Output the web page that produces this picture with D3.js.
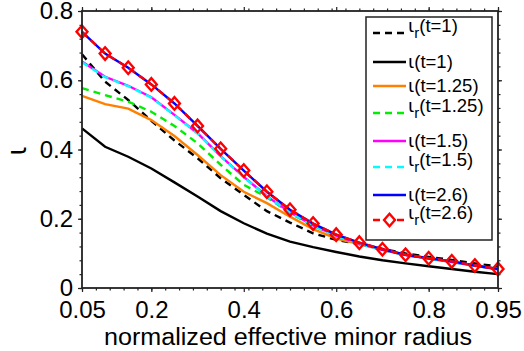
<!DOCTYPE html>
<html>
<head>
<meta charset="utf-8">
<script src="https://cdn.jsdelivr.net/npm/d3@7"></script>
<style>
  body { margin: 0; background: #fff; }
  svg { display: block; font-family: "Liberation Sans", Arial, Helvetica, sans-serif; }
  .iota { font-family: "DejaVu Sans", sans-serif; }
</style>
</head>
<body>
<svg id="chart"></svg>
<script>
const width = 524;
const height = 351;
const margin = { top: 11, right: 26, bottom: 63, left: 82 };

// radius grid
const rho = [0.05, 0.1, 0.15, 0.2, 0.25, 0.3, 0.35, 0.4, 0.45, 0.5, 0.55, 0.6, 0.65, 0.7, 0.75, 0.8, 0.85, 0.9, 0.95];

const iotaR_t1   = [0.675, 0.596, 0.543, 0.483, 0.426, 0.375, 0.317, 0.269, 0.222, 0.189, 0.158, 0.139, 0.127, 0.113, 0.100, 0.090, 0.081, 0.071, 0.062];
const iota_t1    = [0.461, 0.408, 0.379, 0.345, 0.305, 0.264, 0.222, 0.187, 0.157, 0.134, 0.118, 0.104, 0.091, 0.080, 0.071, 0.063, 0.055, 0.047, 0.040];
const iota_t125  = [0.555, 0.531, 0.518, 0.485, 0.439, 0.384, 0.326, 0.278, 0.245, 0.206, 0.170, 0.143, 0.127, 0.110, 0.096, 0.086, 0.076, 0.065, 0.055];
const iotaR_t125 = [0.577, 0.557, 0.538, 0.509, 0.468, 0.418, 0.356, 0.298, 0.262, 0.216, 0.180, 0.150, 0.128, 0.110, 0.095, 0.085, 0.076, 0.065, 0.055];
const iota_t15   = [0.654, 0.610, 0.584, 0.551, 0.500, 0.447, 0.381, 0.321, 0.265, 0.219, 0.181, 0.151, 0.128, 0.110, 0.095, 0.085, 0.075, 0.064, 0.054];
const iotaR_t15  = [0.652, 0.609, 0.583, 0.550, 0.499, 0.446, 0.380, 0.320, 0.264, 0.218, 0.180, 0.150, 0.128, 0.110, 0.095, 0.085, 0.075, 0.064, 0.054];
const iota_t26   = [0.740, 0.677, 0.636, 0.588, 0.533, 0.468, 0.402, 0.339, 0.278, 0.226, 0.186, 0.154, 0.131, 0.112, 0.096, 0.086, 0.077, 0.065, 0.055];
const iotaR_t26  = [0.740, 0.677, 0.636, 0.588, 0.533, 0.468, 0.402, 0.339, 0.278, 0.226, 0.186, 0.154, 0.131, 0.112, 0.096, 0.086, 0.077, 0.065, 0.055];

const xTicks = [0.05, 0.2, 0.4, 0.6, 0.8, 0.95];
const yTicks = [0, 0.2, 0.4, 0.6, 0.8];

const series = [
  { sub: true,  label: "(t=1)",    values: iotaR_t1,   color: "#000000", dash: true,  marker: false },
  { sub: false, label: "(t=1)",    values: iota_t1,    color: "#000000", dash: false, marker: false },
  { sub: false, label: "(t=1.25)", values: iota_t125,  color: "#ff8000", dash: false, marker: false },
  { sub: true,  label: "(t=1.25)", values: iotaR_t125, color: "#00ee00", dash: true,  marker: false },
  { sub: false, label: "(t=1.5)",  values: iota_t15,   color: "#ff00ff", dash: false, marker: false },
  { sub: true,  label: "(t=1.5)",  values: iotaR_t15,  color: "#00ffff", dash: true,  marker: false },
  { sub: false, label: "(t=2.6)",  values: iota_t26,   color: "#0000ff", dash: false, marker: false },
  { sub: true,  label: "(t=2.6)",  values: iotaR_t26,  color: "#ff0000", dash: true,  marker: true }
];
const legendY = [33, 62, 86, 113, 141, 167, 195, 220];

const svg = d3.select("#chart")
    .attr("width", width)
    .attr("height", height);

const xScale = d3.scaleLinear()
    .domain([0.05, 0.95])
    .range([margin.left, width - margin.right]);

const yScale = d3.scaleLinear()
    .domain([0, 0.8])
    .range([height - margin.bottom, margin.top]);

const axisColor = "#222";
const minorX = d3.range(0, 31).map(i => 0.05 + i * 0.03);
const minorY = d3.range(0, 21).map(i => i * 0.04);

function styleAxis(sel) {
    sel.select(".domain").remove();
    sel.selectAll("line").attr("stroke", axisColor).attr("stroke-width", 1.2);
    sel.selectAll("text").attr("fill", "#000").style("font-size", "24px");
}

// minor ticks
svg.append("g").attr("transform", `translate(0,${height - margin.bottom})`)
    .call(d3.axisBottom(xScale).tickValues(minorX).tickSize(2.5).tickFormat(""))
    .call(styleAxis);
svg.append("g").attr("transform", `translate(0,${margin.top})`)
    .call(d3.axisTop(xScale).tickValues(minorX).tickSize(2.5).tickFormat(""))
    .call(styleAxis);
svg.append("g").attr("transform", `translate(${margin.left},0)`)
    .call(d3.axisLeft(yScale).tickValues(minorY).tickSize(2.5).tickFormat(""))
    .call(styleAxis);
svg.append("g").attr("transform", `translate(${width - margin.right},0)`)
    .call(d3.axisRight(yScale).tickValues(minorY).tickSize(2.5).tickFormat(""))
    .call(styleAxis);

// major ticks
svg.append("g").attr("transform", `translate(0,${height - margin.bottom})`)
    .call(d3.axisBottom(xScale).tickValues(xTicks).tickSize(4).tickPadding(9).tickFormat(d => String(d)))
    .call(styleAxis);
svg.append("g").attr("transform", `translate(0,${margin.top})`)
    .call(d3.axisTop(xScale).tickValues(xTicks).tickSize(4).tickFormat(""))
    .call(styleAxis);
svg.append("g").attr("transform", `translate(${margin.left},0)`)
    .call(d3.axisLeft(yScale).tickValues(yTicks).tickSize(4).tickPadding(5).tickFormat(d => String(d)))
    .call(styleAxis);
svg.append("g").attr("transform", `translate(${width - margin.right},0)`)
    .call(d3.axisRight(yScale).tickValues(yTicks).tickSize(4).tickFormat(""))
    .call(styleAxis);

// curves
const line = d3.line()
    .x((d, i) => xScale(rho[i]))
    .y(d => yScale(d));

const diamond = d3.symbol(d3.symbolSquare, 60)();

const plot = svg.append("g");
series.forEach(s => {
    plot.append("path")
        .attr("d", line(s.values))
        .attr("fill", "none")
        .attr("stroke", s.color)
        .attr("stroke-width", 2.4)
        .attr("stroke-dasharray", s.dash ? "7,5" : null);
    if (s.marker) {
        plot.selectAll(null)
            .data(s.values)
            .enter()
            .append("path")
            .attr("d", diamond)
            .attr("transform", (d, i) => `translate(${xScale(rho[i])},${yScale(d)}) scale(1,1.15) rotate(45)`)
            .attr("fill", "none")
            .attr("stroke", s.color)
            .attr("stroke-width", 2.2);
    }
});

// frame
svg.append("rect")
    .attr("x", margin.left)
    .attr("y", margin.top)
    .attr("width", width - margin.left - margin.right)
    .attr("height", height - margin.top - margin.bottom)
    .attr("fill", "none")
    .attr("stroke", axisColor)
    .attr("stroke-width", 1.8);

// legend
const legend = svg.append("g");
legend.append("rect")
    .attr("x", 366).attr("y", 17)
    .attr("width", 126).attr("height", 223)
    .attr("fill", "#fff")
    .attr("stroke", axisColor)
    .attr("stroke-width", 1.5);

series.forEach((s, i) => {
    const ly = legendY[i];
    legend.append("line")
        .attr("x1", 373).attr("x2", 406)
        .attr("y1", ly).attr("y2", ly)
        .attr("stroke", s.color)
        .attr("stroke-width", 2.4)
        .attr("stroke-dasharray", s.dash ? "7,5" : null);
    if (s.marker) {
        legend.append("path")
            .attr("d", diamond)
            .attr("transform", `translate(389.5,${ly}) scale(1,1.15) rotate(45)`)
            .attr("fill", "#fff")
            .attr("stroke", s.color)
            .attr("stroke-width", 2.2);
    }
    const t = legend.append("text")
        .attr("x", 408)
        .attr("y", s.sub ? ly - 1 : ly + 6)
        .style("font-size", "18.5px");
    t.append("tspan").attr("class", "iota").text("ι");
    if (s.sub) {
        t.append("tspan").attr("dy", 6).style("font-size", "15px").text("r");
        t.append("tspan").attr("dy", -6).text(s.label);
    } else {
        t.append("tspan").text(s.label);
    }
});

// axis labels
svg.append("text")
    .attr("x", 288)
    .attr("y", 345)
    .attr("text-anchor", "middle")
    .attr("textLength", 368)
    .attr("lengthAdjust", "spacingAndGlyphs")
    .style("font-size", "23px")
    .text("normalized effective minor radius");

svg.append("text")
    .attr("class", "iota")
    .attr("transform", "translate(26,151) rotate(-90)")
    .attr("text-anchor", "middle")
    .style("font-size", "26px")
    .text("ι");
</script>
</body>
</html>
